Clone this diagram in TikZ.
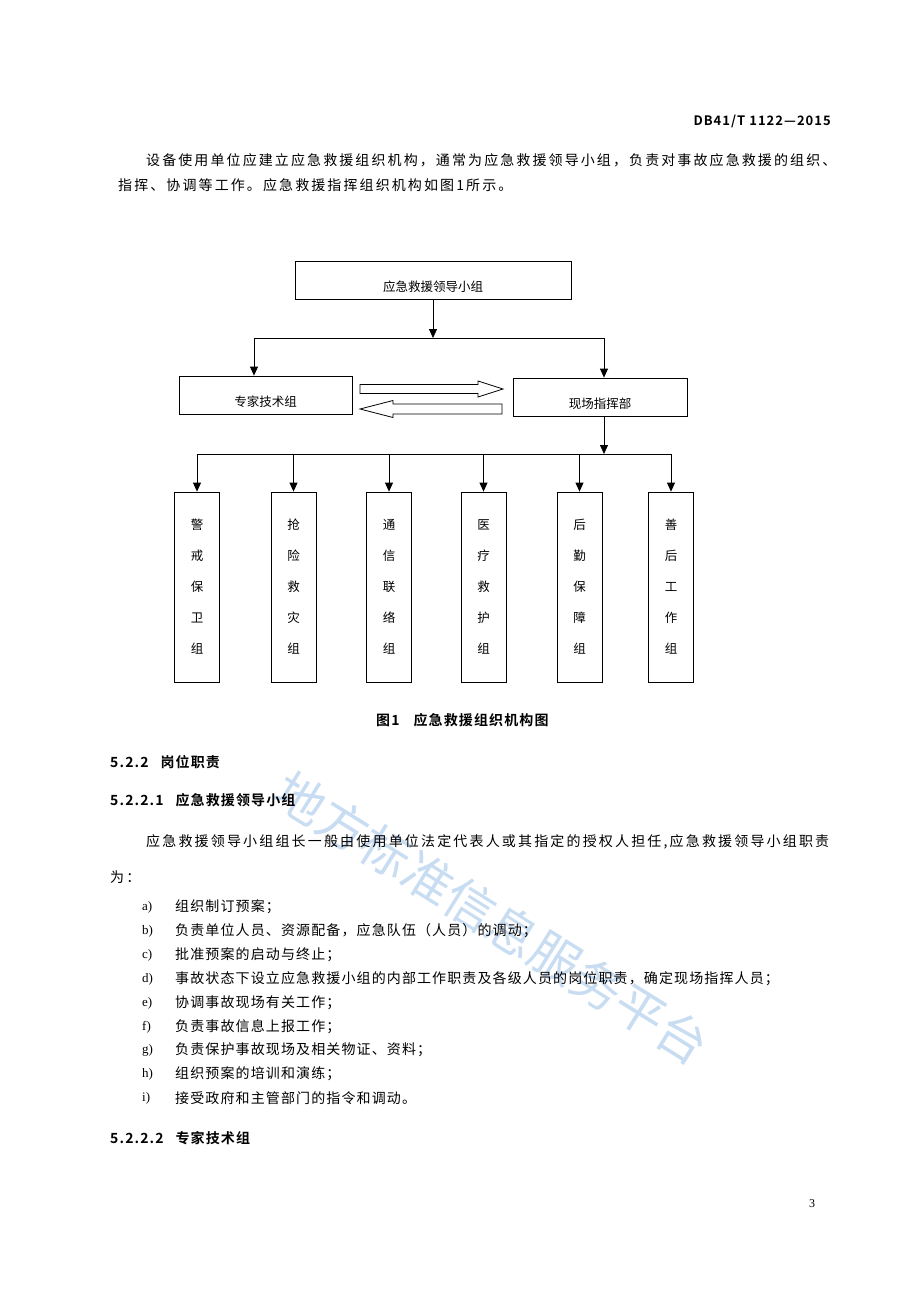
\documentclass[tikz,border=0pt]{standalone}
\usepackage{fontspec}
\setmainfont{Liberation Serif}
\newfontfamily\cjk[LetterSpace=15]{Noto Sans CJK SC}
\newfontfamily\cjkn{Noto Sans CJK SC}
\newfontfamily\cjkb[LetterSpace=8]{Noto Sans CJK SC Bold}
\usetikzlibrary{arrows.meta}
\definecolor{wm}{RGB}{200,220,242}
\begin{document}
\begin{tikzpicture}[x=1pt,y=-1pt,
  box/.style={draw,thick,inner sep=0pt},
  btxt/.style={inner sep=0pt,font=\cjkn\fontsize{12.5}{14}\selectfont},
  vbox/.style={draw,thick,minimum width=45pt,minimum height=190pt,inner sep=0pt,font=\cjkn\fontsize{12.5}{31}\selectfont,align=center},
  arr/.style={-{Triangle[length=9pt,width=8pt]},thick},
  ln/.style={thick},
  body/.style={anchor=west,inner sep=0pt,font=\cjk\fontsize{14}{16}\selectfont},
  hd/.style={anchor=west,inner sep=0pt,font=\cjkb\fontsize{14}{16}\selectfont},
  lbl/.style={anchor=west,inner sep=0pt,font=\fontsize{13}{15}\selectfont}]
\useasboundingbox[fill=white] (0,0) rectangle (920,1302);
% watermark
\node[rotate=-32,text=wm,font=\cjkn\fontsize{50}{52}\selectfont,inner sep=0pt] (wmk) at (492,918) {地方标准信息服务平台};
% header
\node[anchor=east,inner sep=0pt,font=\cjkb\fontsize{13}{15}\selectfont] (hdr) at (831,121) {DB41/T 1122—2015};
\node[body] (p1) at (146,160) {设备使用单位应建立应急救援组织机构，通常为应急救援领导小组，负责对事故应急救援的组织、};
\node[body] (p2) at (118,185) {指挥、协调等工作。应急救援指挥组织机构如图1所示。};
% diagram
\node[box,minimum width=276pt,minimum height=38pt] (top) at (433,280) {};
\node[btxt] (topt) at (433,287) {应急救援领导小组};
\node[box,minimum width=173pt,minimum height=38pt] (zj) at (265.5,395) {};
\node[btxt] (zjt) at (265.5,402) {专家技术组};
\node[box,minimum width=174pt,minimum height=38pt] (xc) at (600,397) {};
\node[btxt] (xct) at (600,404) {现场指挥部};
\coordinate (j1) at (433,338);
\draw[arr] (top.south) -- (j1);
\draw[ln] (254,338) -- (604,338);
\draw[arr] (254,338) -- (zj.north -| 254,0);
\draw[arr] (604,338) -- (xc.north -| 604,0);
% hollow block arrows
\draw[thick] (360,384.5) -- (478,384.5) -- (478,381) -- (503,389) -- (478,397) -- (478,393.5) -- (360,393.5) -- cycle;
\draw[thick] (502,404) -- (393,404) -- (393,400.5) -- (360,409) -- (393,417.5) -- (393,414) -- (502,414) -- cycle;
\coordinate (j2) at (604,454);
\draw[arr] (xc.south -| 604,0) -- (j2);
\draw[ln] (197,454) -- (671,454);
\foreach \n/\x/\t in {a/197/警\\戒\\保\\卫\\组, b/293.5/抢\\险\\救\\灾\\组, c/389/通\\信\\联\\络\\组, d/483.5/医\\疗\\救\\护\\组, e/579.5/后\\勤\\保\\障\\组, f/671/善\\后\\工\\作\\组}{
  \node[vbox] (\n) at (\x,587) {\t};
  \draw[arr] (\x,454) -- (\n.north);
}
\node[anchor=west,inner sep=0pt,font=\cjkb\fontsize{14}{16}\selectfont] (cap) at (376,720) {图1\hspace{14pt}应急救援组织机构图};
% sections
\node[hd] (s1) at (110,762) {5.2.2\hspace{12pt}岗位职责};
\node[hd] (s2) at (110,800) {5.2.2.1\hspace{12pt}应急救援领导小组};
\node[body,font=\cjkn\fontsize{14}{16}\selectfont\addfontfeature{LetterSpace=15.5}] (p3) at (146,842) {应急救援领导小组组长一般由使用单位法定代表人或其指定的授权人担任,应急救援领导小组职责};
\node[body] (p4) at (110,877) {为：};
\foreach \y/\l/\t [count=\i] in {907/a)/组织制订预案；, 931/b)/负责单位人员、资源配备，应急队伍（人员）的调动；, 955/c)/批准预案的启动与终止；, 979/d)/事故状态下设立应急救援小组的内部工作职责及各级人员的岗位职责，确定现场指挥人员；, 1003/e)/协调事故现场有关工作；, 1027/f)/负责事故信息上报工作；, 1050/g)/负责保护事故现场及相关物证、资料；, 1074/h)/组织预案的培训和演练；, 1098/i)/接受政府和主管部门的指令和调动。}{
  \node[lbl] (l\i) at (142,\y) {\l};
  \node[body,font=\cjkn\fontsize{14}{16}\selectfont\addfontfeature{LetterSpace=8}] (t\i) at (175,\y) {\t};
}
\node[hd] (s3) at (110,1138) {5.2.2.2\hspace{12pt}专家技术组};
\node[inner sep=0pt,font=\fontsize{12}{14}\selectfont] (pg) at (812,1204) {3};
\end{tikzpicture}
\end{document}
